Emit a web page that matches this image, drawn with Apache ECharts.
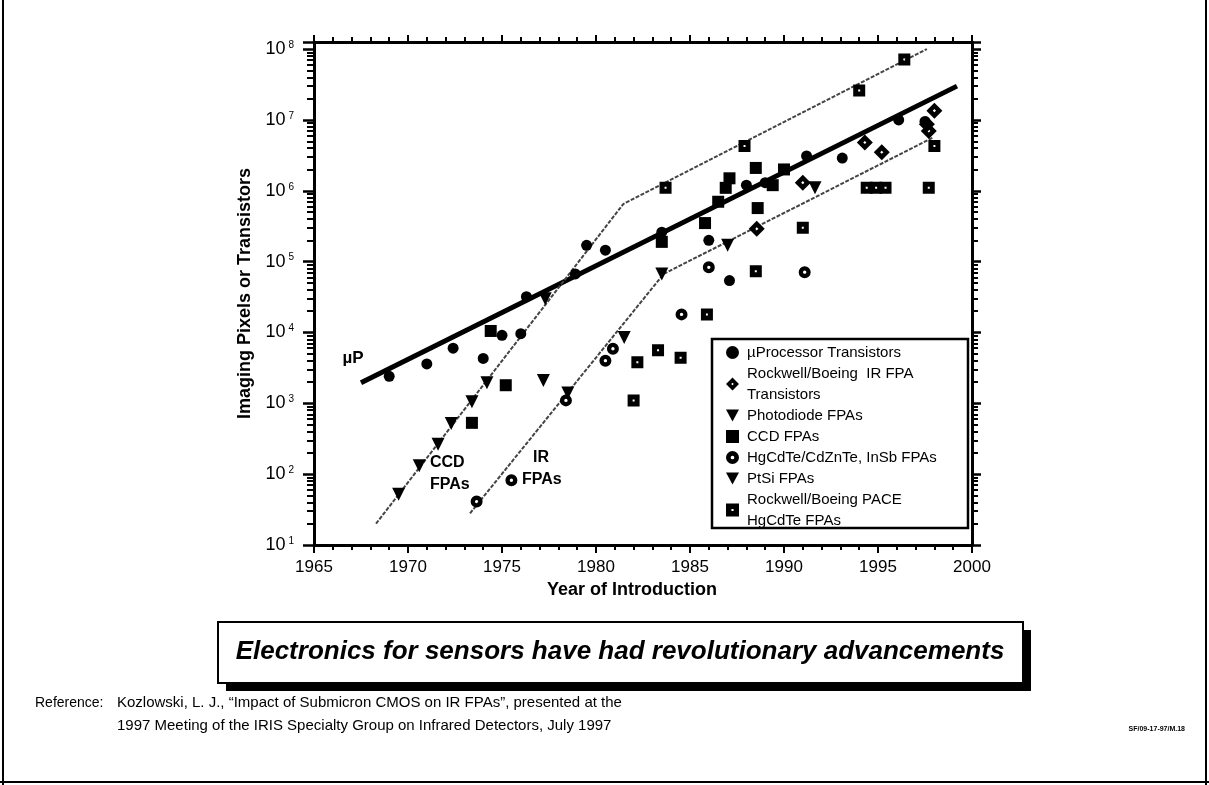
<!DOCTYPE html>
<html><head><meta charset="utf-8">
<script src="https://cdn.jsdelivr.net/npm/echarts@6/dist/echarts.min.js"></script>
<style>html,body{margin:0;padding:0;background:#fff}#c{width:1209px;height:785px}</style>
</head><body><div id="c"></div>
<script>
// ---- data ----
const xMin = 1965, xMax = 2000, xStep = 5;
const yExponents = [1, 2, 3, 4, 5, 6, 7, 8];

const seriesNames = [
  'µProcessor Transistors',
  'Rockwell/Boeing  IR FPA\nTransistors',
  'Photodiode FPAs',
  'CCD FPAs',
  'HgCdTe/CdZnTe, InSb FPAs',
  'PtSi FPAs',
  'Rockwell/Boeing PACE\nHgCdTe FPAs'
];

const uPTransistors = [[1969.0,2400],[1971.0,3600],[1972.4,6000],[1974.0,4300],[1975.0,9100],[1976.0,9600],[1976.3,32000],[1978.9,67000],[1979.5,170000],[1980.5,145000],[1983.5,260000],[1986.0,200000],[1987.1,54000],[1988.0,1200000],[1989.0,1300000],[1991.2,3100000],[1993.1,2900000],[1996.1,10000000],[1997.5,9500000]];
const rockwellTransistors = [[1988.55,290000],[1991.0,1300000],[1994.3,4800000],[1995.2,3500000],[1997.6,8700000],[1997.7,7000000],[1998.0,13500000]];
const photodiodeFPAs = [[1969.5,52],[1970.6,131],[1971.6,264],[1972.3,517],[1973.4,1050],[1974.2,1950],[1977.2,2100],[1977.3,30000]];
const ccdFPAs = [[1973.4,530],[1974.4,10500],[1975.2,1800],[1983.5,190000],[1985.8,350000],[1986.5,700000],[1986.9,1100000],[1987.1,1500000],[1988.5,2100000],[1988.6,570000],[1989.4,1200000],[1990.0,2000000]];
const hgcdteFPAs = [[1973.65,41],[1975.5,82],[1978.4,1100],[1980.5,4000],[1980.9,5900],[1984.55,18000],[1986.0,83000],[1991.1,71000]];
const ptsiFPAs = [[1978.5,1400],[1981.5,8500],[1983.5,67000],[1987.0,170000],[1991.65,1100000]];
const paceFPAs = [[1982.0,1100],[1982.2,3800],[1983.3,5600],[1984.5,4400],[1983.7,1100000],[1985.9,18000],[1987.9,4300000],[1988.5,73000],[1991.0,300000],[1994.0,26000000],[1994.4,1100000],[1994.9,1100000],[1995.4,1100000],[1996.4,71000000],[1997.7,1100000],[1998.0,4300000]];

const uPTrend = [[1967.5,1950],[1999.2,30000000]];
const ccdTrend = [[1968.3,20],[1981.45,650000],[1997.6,100000000]];
const irTrend = [[1973.3,28],[1983.6,67000],[1997.9,5600000]];

// ---- helpers ----
const FN = '"Liberation Sans Narrow","Arial Narrow","Liberation Sans",Arial,sans-serif';
const FS = '"Liberation Sans",Arial,sans-serif';
const yMinVal = 10, yTopLog = 8.1, yMaxVal = Math.pow(10, yTopLog);
const minorLogs = [];
for (let e = 1; e < 8; e++) for (let k = 2; k <= 9; k++) minorLogs.push(e + Math.log10(k));

const SYM_RING = 'path://M6,0 A6,6 0 1,1 6,12 A6,6 0 1,1 6,0 Z M6,4.3 A1.7,1.7 0 1,0 6,7.7 A1.7,1.7 0 1,0 6,4.3 Z';
const SYM_DIAMOND = 'path://M6,0 L12,6 L6,12 L0,6 Z M6,4.8 L4.8,6 L6,7.2 L7.2,6 Z';
const SYM_PACE = 'path://M0,0 H12 V12 H0 Z M5,5 V7 H7 V5 Z';
const SYM_TRI = 'path://M0,0 L12,0 L6,11 Z';

function scatter(name, data, symbol, size) {
  return {
    type: 'scatter', name, data, symbol, symbolSize: size,
    itemStyle: { color: '#000', opacity: 1 }, z: 3, silent: true
  };
}
function trend(data, color, width, type) {
  return {
    type: 'line', data, symbol: 'none', showSymbol: false, silent: true, z: 2,
    lineStyle: { color, width, type: type || 'solid' }
  };
}

const chart = echarts.init(document.getElementById('c'), null, { renderer: 'canvas' });
const yLabelFmt = v => {
  const e = Math.log10(v);
  if (Math.abs(e - Math.round(e)) > 1e-6) return '';
  return '{b|10}{s|' + Math.round(e) + '}';
};

const option = {
  backgroundColor: '#fff',
  animation: false,
  grid: { left: 314, right: 237, top: 42, bottom: 240, outerBoundsMode: 'none', containLabel: false },
  xAxis: [
    {
      type: 'value', min: xMin, max: xMax, interval: xStep, position: 'bottom',
      axisLine: { lineStyle: { color: '#000', width: 3 } },
      axisTick: { length: 8, lineStyle: { color: '#000', width: 2 } },
      minorTick: { show: true, splitNumber: 5, length: 5, lineStyle: { color: '#000', width: 2 } },
      splitLine: { show: false }, minorSplitLine: { show: false },
      axisLabel: { color: '#000', fontSize: 17, margin: 14, fontFamily: FN, formatter: v => String(v) },
      name: 'Year of Introduction', nameLocation: 'middle', nameGap: 35,
      nameTextStyle: { color: '#000', fontSize: 18, fontWeight: 'bold', fontFamily: FN, padding: [0, 22, 0, 0] }
    },
    {
      type: 'value', min: xMin, max: xMax, interval: xStep, position: 'top',
      axisLine: { lineStyle: { color: '#000', width: 3 } },
      axisTick: { length: 7, lineStyle: { color: '#000', width: 2 } },
      minorTick: { show: true, splitNumber: 5, length: 5, lineStyle: { color: '#000', width: 2 } },
      splitLine: { show: false }, axisLabel: { show: false }
    }
  ],
  yAxis: [
    {
      type: 'log', logBase: 10, min: yMinVal, max: yMaxVal, position: 'left',
      axisLine: { lineStyle: { color: '#000', width: 3 } },
      axisTick: { length: 11, lineStyle: { color: '#000', width: 2.5 } },
      splitLine: { show: false },
      axisLabel: {
        formatter: yLabelFmt, margin: 20,
        rich: {
          b: { fontSize: 18, color: '#000', fontFamily: FN },
          s: { fontSize: 10, color: '#000', fontFamily: FN, verticalAlign: 'top', padding: [0, 0, 0, 3] }
        }
      },
      name: 'Imaging Pixels or Transistors', nameLocation: 'middle', nameGap: 57,
      nameTextStyle: { color: '#000', fontSize: 18, fontWeight: 'bold', fontFamily: FN }
    },
    {
      type: 'value', min: 1, max: yTopLog, position: 'left',
      axisLine: { show: false }, splitLine: { show: false }, axisLabel: { show: false },
      axisTick: { show: true, length: 7, customValues: minorLogs, lineStyle: { color: '#000', width: 2 } }
    },
    {
      type: 'log', logBase: 10, min: yMinVal, max: yMaxVal, position: 'right',
      axisLine: { lineStyle: { color: '#000', width: 3 } },
      axisTick: { length: 9, lineStyle: { color: '#000', width: 2.5 } },
      splitLine: { show: false }, axisLabel: { show: false }
    },
    {
      type: 'value', min: 1, max: yTopLog, position: 'right',
      axisLine: { show: false }, splitLine: { show: false }, axisLabel: { show: false },
      axisTick: { show: true, length: 6, customValues: minorLogs, lineStyle: { color: '#000', width: 2 } }
    }
  ],
  legend: {
    orient: 'vertical', left: 726, top: 342, padding: 0,
    itemWidth: 13, itemHeight: 13, itemGap: 0, selectedMode: false,
    textStyle: { fontSize: 15, lineHeight: 21, color: '#000', fontFamily: FS, padding: [0, 0, 0, 3] },
    data: seriesNames
  },
  series: [
    trend(uPTrend, '#000', 5),
    trend(ccdTrend, '#444', 2, [4, 1.5]),
    trend(irTrend, '#444', 2, [4, 1.5]),
    scatter(seriesNames[0], uPTransistors, 'circle', 11),
    scatter(seriesNames[1], rockwellTransistors, SYM_DIAMOND, 16),
    scatter(seriesNames[2], photodiodeFPAs, SYM_TRI, 13),
    scatter(seriesNames[3], ccdFPAs, 'rect', 12),
    scatter(seriesNames[4], hgcdteFPAs, SYM_RING, 12),
    scatter(seriesNames[5], ptsiFPAs, SYM_TRI, 13),
    scatter(seriesNames[6], paceFPAs, SYM_PACE, 12)
  ],
  graphic: [
    // legend frame
    { type: 'rect', shape: { x: 712, y: 339, width: 256, height: 189 }, style: { fill: 'none', stroke: '#000', lineWidth: 2.5 }, z: 10 },
    // trend annotations
    { type: 'text', style: { text: 'µP', x: 353, y: 358, font: 'bold 17px ' + FS, fill: '#000', align: 'center', verticalAlign: 'middle' } },
    { type: 'text', style: { text: 'CCD\nFPAs', x: 430, y: 474, font: 'bold 16px ' + FS, lineHeight: 22, fill: '#000', align: 'left', verticalAlign: 'middle' } },
    { type: 'text', style: { text: 'IR', x: 533, y: 458, font: 'bold 16px ' + FS, fill: '#000', align: 'left', verticalAlign: 'middle' } },
    { type: 'text', style: { text: 'FPAs', x: 522, y: 480, font: 'bold 16px ' + FS, fill: '#000', align: 'left', verticalAlign: 'middle' } },
    // title box with shadow
    { type: 'rect', shape: { x: 226, y: 630, width: 805, height: 61 }, style: { fill: '#000' } },
    { type: 'rect', shape: { x: 218, y: 622, width: 805, height: 61 }, style: { fill: '#fff', stroke: '#000', lineWidth: 2 } },
    { type: 'text', style: { text: 'Electronics for sensors have had revolutionary advancements', x: 620, y: 652, font: 'italic bold 26px ' + FN, fill: '#000', align: 'center', verticalAlign: 'middle' } },
    // reference
    { type: 'text', style: { text: 'Reference:', x: 35, y: 703, font: '14px ' + FN, fill: '#000', align: 'left', verticalAlign: 'middle' } },
    { type: 'text', style: { text: 'Kozlowski, L. J., \u201cImpact of Submicron CMOS on IR FPAs\u201d, presented at the', x: 117, y: 703, font: '15px ' + FN, fill: '#000', align: 'left', verticalAlign: 'middle' } },
    { type: 'text', style: { text: '1997 Meeting of the IRIS Specialty Group on Infrared Detectors, July 1997', x: 117, y: 726, font: '15px ' + FN, fill: '#000', align: 'left', verticalAlign: 'middle' } },
    { type: 'text', style: { text: 'SF/09-17-97/M.18', x: 1185, y: 729, font: 'bold 7px ' + FN, fill: '#000', align: 'right', verticalAlign: 'middle' } },
    // page frame
    { type: 'line', shape: { x1: 3, y1: 0, x2: 3, y2: 785 }, style: { stroke: '#000', lineWidth: 2 } },
    { type: 'line', shape: { x1: 0, y1: 782, x2: 1209, y2: 782 }, style: { stroke: '#000', lineWidth: 2 } },
    { type: 'line', shape: { x1: 1206, y1: 0, x2: 1206, y2: 785 }, style: { stroke: '#000', lineWidth: 2 } }
  ]
};
chart.setOption(option);
</script>
</body></html>
